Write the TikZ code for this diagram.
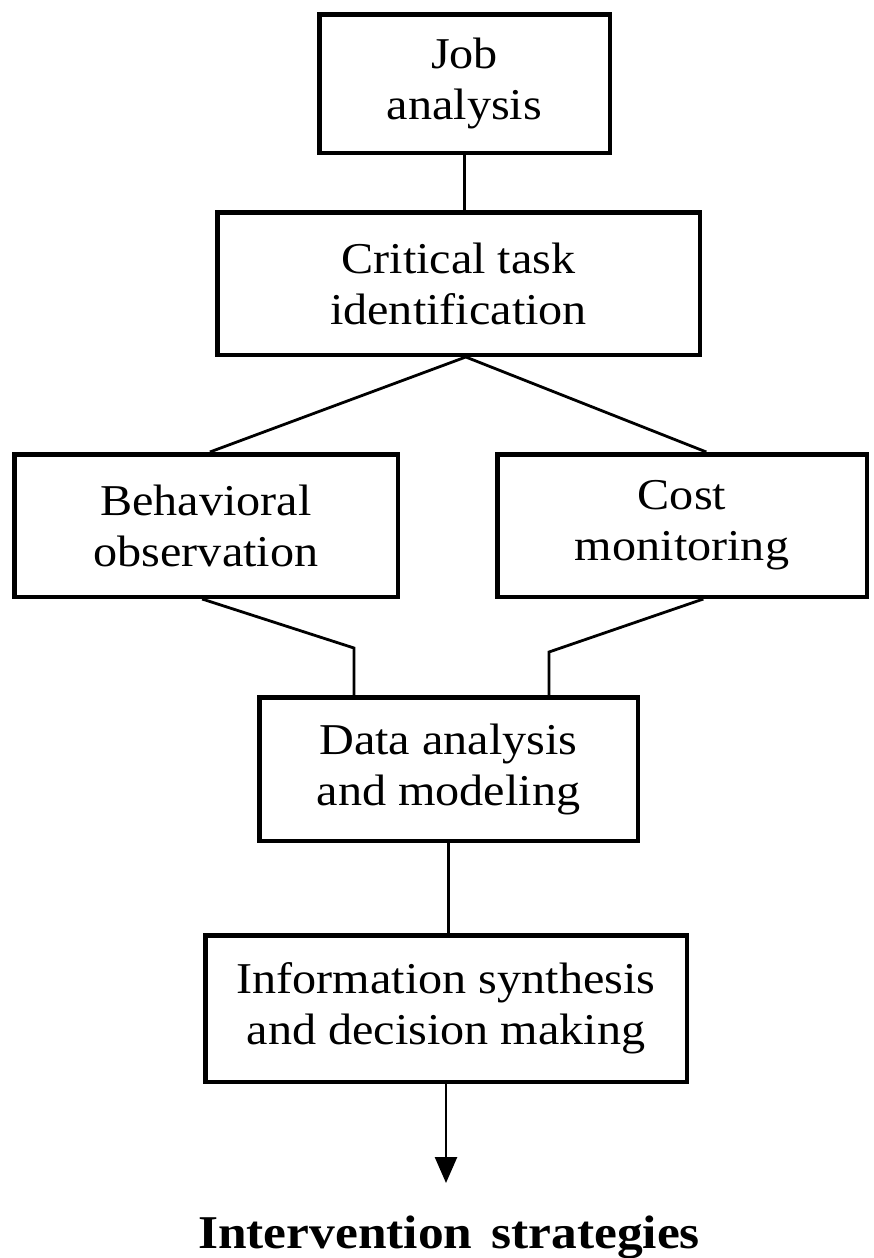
\documentclass[tikz,border=0pt]{standalone}
\usepackage{fontspec}
\setmainfont{Liberation Serif}
\newfontfamily\boxfont[FakeStretch=1.095]{Liberation Serif}
\usetikzlibrary{calc,arrows.meta}
\tikzset{
  box/.style={draw, line width=4.5pt, rectangle, inner sep=0pt, align=center,
    font=\boxfont\fontsize{44}{51}\selectfont},
  link/.style={line width=2.2pt},
  slant/.style={line width=2.8pt, line join=miter},
}
\begin{document}
\begin{tikzpicture}[x=1pt,y=-1pt]
\useasboundingbox (0,0) rectangle (873,1258);
\fill[white] (0,0) rectangle (873,1258);

\node[box, minimum width=290.5pt, minimum height=138.5pt] (b1) at (464.5,83.5) {Job\\analysis};
\node[box, minimum width=482.5pt, minimum height=142.5pt] (b2) at (458.5,283.5) {Critical task\\identification};
\node[box, minimum width=383.5pt, minimum height=142.5pt] (b3) at (206,525.5) {Behavioral\\observation};
\node[box, minimum width=369.5pt, minimum height=142.5pt] (b4) at (682,525.5) {Cost\\monitoring};
\node[box, minimum width=378.5pt, minimum height=143.5pt] (b5) at (448.5,769) {Data analysis\\and modeling};
\node[box, minimum width=481.5pt, minimum height=146.5pt] (b6) at (446,1008.5) {Information synthesis\\and decision making};
\node[anchor=base, inner sep=0pt, font=\boxfont\bfseries\fontsize{47}{52}\selectfont] (out) at (449,1248) {Intervention\hspace{0.4em}strategies};

\coordinate (tip) at (446,1183);
\coordinate (kl) at (354,648);
\coordinate (kr) at (549,652);

\draw[link] (b1.south) -- (b1.south |- b2.north);
\draw[slant] ($(b3.north west)!0.51!(b3.north east)$) -- ($(b2.south west)!0.515!(b2.south east)$)
   -- ($(b4.north west)!0.565!(b4.north east)$);
\draw[slant] ($(b3.south west)!0.49!(b3.south east)$) -- (kl) -- (kl |- b5.north);
\draw[slant] ($(b4.south west)!0.557!(b4.south east)$) -- (kr) -- (kr |- b5.north);
\draw[link] (b5.south) -- (b5.south |- b6.north);
\draw[line width=2.6pt, -{Triangle[width=22pt,length=26pt]}] (b6.south) -- (tip);
\end{tikzpicture}
\end{document}
